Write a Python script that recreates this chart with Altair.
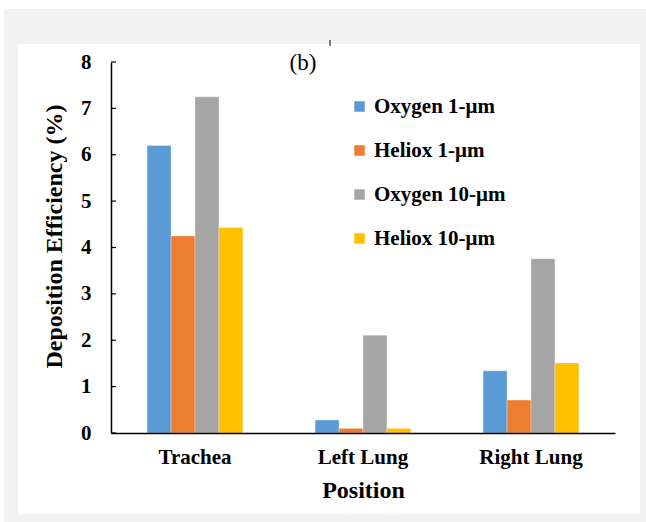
import altair as alt
import pandas as pd

positions = ["Trachea", "Left Lung", "Right Lung"]
series = ["Oxygen 1-μm", "Heliox 1-μm", "Oxygen 10-μm", "Heliox 10-μm"]
colors = ["#5B9BD5", "#ED7D31", "#A5A5A5", "#FFC000"]
oxygen_1 = [6.2, 0.28, 1.34]
heliox_1 = [4.25, 0.1, 0.71]
oxygen_10 = [7.25, 2.11, 3.76]
heliox_10 = [4.43, 0.1, 1.51]
y_ticks = [0, 1, 2, 3, 4, 5, 6, 7, 8]

rows = []
for s, vals in zip(series, [oxygen_1, heliox_1, oxygen_10, heliox_10]):
    for p, v in zip(positions, vals):
        rows.append({"Position": p, "Series": s, "Value": v})
df = pd.DataFrame(rows)

W, H = 504, 371
FONT = "Liberation Serif"

one = alt.Data(values=[{}])

bg_gray = alt.Chart(one).mark_rect(color="#f2f2f2").encode(
    x=alt.value(-107), x2=alt.value(535), y=alt.value(-53), y2=alt.value(460)
)
bg_white = alt.Chart(one).mark_rect(color="#ffffff").encode(
    x=alt.value(-93), x2=alt.value(529), y=alt.value(-18), y2=alt.value(452)
)
artifact = alt.Chart(one).mark_rule(color="black", strokeWidth=1).encode(
    x=alt.value(219), y=alt.value(-22), y2=alt.value(-16)
)

y_scale = alt.Scale(domain=[0, 8], nice=False)
y_axis = alt.Axis(title="Deposition Efficiency (%)", values=y_ticks,
                  labelFont=FONT, labelFontWeight="bold", labelFontSize=21,
                  labelColor="black", labelPadding=20, ticks=False, grid=False,
                  domainColor="black", domainWidth=1.5, titleFont=FONT,
                  titleFontWeight="bold", titleFontSize=24, titleColor="black",
                  titleX=-57, titleY=174, titleAngle=-90, titleAlign="center",
                  titleBaseline="middle", zindex=1)

bars = alt.Chart(df).mark_bar(stroke="white", strokeWidth=0.6, strokeOpacity=0.5).encode(
    x=alt.X("Position:N", sort=positions,
            scale=alt.Scale(paddingInner=0.43, paddingOuter=0.215),
            axis=alt.Axis(title="Position", labelFont=FONT, labelFontWeight="bold",
                          labelFontSize=21, labelColor="black", labelAngle=0,
                          labelPadding=13, ticks=False, domainColor="black",
                          domainWidth=1.6, titleFont=FONT, titleFontWeight="bold",
                          titleFontSize=24, titleColor="black", titleY=57,
                          titleBaseline="middle", zindex=1)),
    xOffset=alt.XOffset("Series:N", sort=series),
    y=alt.Y("Value:Q", scale=y_scale, axis=y_axis),
    color=alt.Color("Series:N", sort=series,
                    scale=alt.Scale(domain=series, range=colors),
                    legend=alt.Legend(title=None, orient="none", legendX=238, legendY=34,
                                      labelFont=FONT, labelFontWeight="bold",
                                      labelFontSize=21, labelColor="black",
                                      symbolType="square", symbolSize=110,
                                      symbolStrokeWidth=0, rowPadding=22,
                                      labelOffset=4, padding=0)),
)

tick_df = pd.DataFrame({"Value": y_ticks})
ticks = alt.Chart(tick_df).mark_rule(color="black", strokeWidth=1.2).encode(
    y=alt.Y("Value:Q", scale=y_scale, axis=y_axis),
    x=alt.value(0), x2=alt.value(5)
)

label_b = alt.Chart(one).mark_text(text="(b)", font=FONT, fontSize=23, color="black",
                                   align="center", baseline="middle").encode(
    x=alt.value(192), y=alt.value(1)
)

chart = alt.layer(bg_gray, bg_white, bars, ticks, label_b, artifact).properties(
    width=W, height=H,
    padding={"left": 111, "top": 62, "right": 31, "bottom": 89},
    autosize=alt.AutoSizeParams(type="none"),
    background="white",
).configure_view(stroke=None)

chart.save("out.html", embed_options={"renderer": "svg", "actions": False})
